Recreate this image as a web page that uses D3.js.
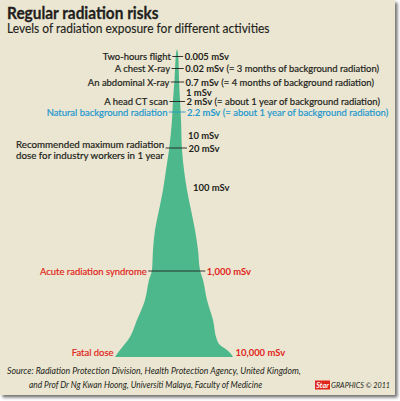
<!DOCTYPE html>
<html><head><meta charset="utf-8">
<script src="https://cdn.jsdelivr.net/npm/d3@7"></script>
<style>html,body{margin:0;padding:0;background:#ffffff;} svg{display:block}</style>
</head><body>
<script>
// ---------- data ----------
const titleText = "Regular radiation risks";
const subtitleText = "Levels of radiation exposure for different activities";
const doses = ["0.005 mSv","0.02 mSv","0.7 mSv","1 mSv","2 mSv","2.2 mSv","10 mSv","20 mSv","100 mSv","1,000 mSv","10,000 mSv"];
const doseNotes = ["","(= 3 months of background radiation)","(= 4 months of background radiation)","","(= about 1 year of background radiation)","(= about 1 year of background radiation)","","","","",""];
const activities = ["Two-hours flight","A chest X-ray","An abdominal X-ray","","A head CT scan","Natural background radiation","","Recommended maximum radiation|dose for industry workers in 1 year","","Acute radiation syndrome","Fatal dose"];
const doseGroup = ["everyday","everyday","everyday","scale","everyday","natural","scale","limit","scale","danger","fatal"];
// position of each dose down the "dose mountain" (0 = tip, 308 = base)
const doseLevel = [7.5, 19.5, 33, 43, 52.5, 63, 86, 99, 138, 222, 303];
// outline of the mountain: level, spread to the left, spread to the right
const profileLevel = [0, 3, 11, 31, 51, 71, 101, 121, 141, 161, 181, 201, 221, 231, 251, 271, 291, 296, 301, 305, 308];
const profileLeft  = [0, 0.8, 1.5, 2.5, 4, 5, 8, 11, 14, 18, 22, 24, 25, 28, 32, 40, 49, 53, 57, 60, 62];
const profileRight = [0, 0.8, 1.5, 2, 3, 4, 5, 7, 10, 14, 18, 21, 23, 26, 30, 36, 40, 43, 50, 54, 56];
const sourceLines = ["Source: Radiation Protection Division, Health Protection Agency,  United Kingdom,",
                     "and Prof Dr Ng Kwan Hoong, Universiti Malaya, Faculty of Medicine"];
const brandText = "Star";
const creditText = "GRAPHICS © 2011";

// ---------- layout / style ----------
const W = 400, H = 401;
const FONT = "Lato, 'Open Sans', sans-serif";
const colors = {everyday:"#231f20", scale:"#231f20", limit:"#231f20", natural:"#1e98cf", danger:"#e1251b", fatal:"#e1251b"};
const green = "#4db88b";
const bg = "#ebe6d1";
const LS = 10, LSX = 0.945;

const svg = d3.select("body").append("svg").attr("width", W).attr("height", H);
const defs = svg.append("defs");
const f = defs.append("filter").attr("id","sh").attr("x","-5%").attr("y","-5%").attr("width","115%").attr("height","115%");
f.append("feDropShadow").attr("dx",2.5).attr("dy",2.5).attr("stdDeviation",1.8).attr("flood-color","#000").attr("flood-opacity",0.55);

svg.append("rect").attr("x",0).attr("y",0).attr("width",395).attr("height",395).attr("fill",bg).attr("filter","url(#sh)");

const y = d3.scaleLinear().domain([0, 308]).range([49, 357]);
const x = d3.scaleLinear().domain([-100, 100]).range([77, 277]);

function txt(parent, px, py, str, o) {
  o = o || {};
  const g = parent.append("g").attr("transform", `translate(${px},${py}) scale(${o.sx || 1},1)`);
  const t = g.append("text").attr("x",0).attr("y",0)
    .attr("font-family", FONT).attr("font-size", o.size || 10)
    .attr("font-weight", o.weight || 400)
    .attr("font-style", o.italic ? "italic" : "normal")
    .attr("fill", o.fill || "#231f20")
    .attr("text-anchor", o.anchor || "start")
    .attr("dy", o.dy == null ? "0.35em" : o.dy)
    .text(str);
  if (o.thick) t.attr("stroke", o.fill || "#231f20").attr("stroke-width", o.thick);
  return t;
}

// title
txt(svg, 7, 18.5, titleText, {size:17.5, weight:700, dy:0, sx:0.88, thick:0.3});
txt(svg, 7, 33, subtitleText, {size:12.5, dy:0, sx:0.958, thick:0.15});

// mountain
const profile = profileLevel.map((d,i)=>({lv:d, l:profileLeft[i], r:profileRight[i]}));
const area = d3.area().y(d=>y(d.lv)).x0(d=>x(-d.l)).x1(d=>x(d.r)).curve(d3.curveMonotoneY);
svg.append("path").datum(profile).attr("d", area).attr("fill", green);

const leftAt = lv => d3.scaleLinear().domain(profileLevel).range(profileLeft)(lv);
const rightAt = lv => d3.scaleLinear().domain(profileLevel).range(profileRight)(lv);

// labels
const labels = svg.append("g");
doses.forEach((d, i) => {
  const lv = doseLevel[i];
  const yy = y(lv);
  const col = colors[doseGroup[i]];
  const rx = Math.max(183, x(rightAt(lv)) + 6.5);
  const lx = Math.min(172, x(-leftAt(lv)) - 5);
  // right: dose value + note
  const g = labels.append("g").attr("transform", `translate(${rx},${yy}) scale(${LSX},1)`);
  const t = g.append("text").attr("font-family", FONT).attr("font-size", LS).attr("dy","0.35em").attr("fill", col);
  t.append("tspan").attr("font-weight", 700).text(d);
  if (doseNotes[i]) t.append("tspan").attr("font-weight", 400).attr("stroke", col).attr("stroke-width", 0.2).text(" " + doseNotes[i]);
  // left: activity
  const act = activities[i];
  if (act) {
    const lines = act.split("|");
    if (lines.length === 1) {
      txt(labels, lx, yy, act, {size:LS, anchor:"end", fill:col, sx:LSX, thick:0.2});
    } else {
      const sx2 = LSX * 1.033;
      const tmp = lines.map((s, k) => txt(labels, 0, 0, s, {size:LS, sx:sx2}));
      const wmax = d3.max(tmp, n => n.node().getComputedTextLength()) * sx2;
      tmp.forEach(n => n.node().parentNode.remove());
      lines.forEach((s, k) => txt(labels, lx - wmax, yy - 3.5 + k * 11, s, {size:LS, fill:col, sx:sx2, thick:0.2}));
    }
    if (doseGroup[i] !== "fatal") {
      labels.append("line").attr("x1", lx + 1.5).attr("x2", rx - 1.5).attr("y1", yy).attr("y2", yy)
        .attr("stroke", doseGroup[i] === "natural" ? col : "#231f20").attr("stroke-width", 0.9);
    }
  }
});

// source
txt(svg, 7, 371, sourceLines[0], {size:9.5, italic:true, sx:0.92});
txt(svg, 29, 384.5, sourceLines[1], {size:9.5, italic:true, sx:0.88});

// credit
svg.append("rect").attr("x",315).attr("y",380.5).attr("width",15).attr("height",9).attr("fill","#e1251b");
txt(svg, 322.5, 385, brandText, {size:8, weight:700, italic:true, anchor:"middle", fill:"#fff", sx:0.9});
txt(svg, 331, 385, creditText, {size:8.5, italic:true, sx:0.85});
</script>
</body></html>
